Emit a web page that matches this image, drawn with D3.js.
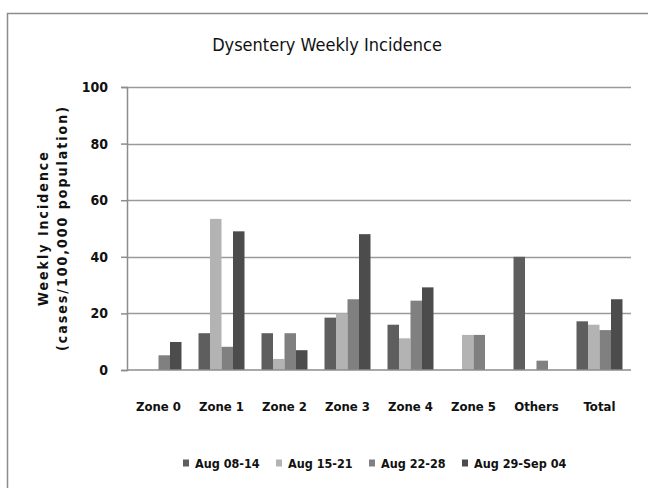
<!DOCTYPE html>
<html>
<head>
<meta charset="utf-8">
<script src="https://cdn.jsdelivr.net/npm/d3@7"></script>
<style>
    body { margin: 0; background: #fff; }
    svg text { font-family: "Liberation Sans Narrow", "DejaVu Sans Condensed", "Arial Narrow", sans-serif; fill: #111; }
</style>
</head>
<body>
<svg id="chart"></svg>
<script>
const categories = ["Zone 0", "Zone 1", "Zone 2", "Zone 3", "Zone 4", "Zone 5", "Others", "Total"];
const seriesNames = ["Aug 08-14", "Aug 15-21", "Aug 22-28", "Aug 29-Sep 04"];
const aug08_14 = [0, 13, 13, 18.5, 16, 0, 40, 17.2];
const aug15_21 = [0, 53.4, 3.9, 20, 11.2, 12.4, 0, 16];
const aug22_28 = [5.2, 8.2, 13, 25, 24.5, 12.4, 3.3, 14.1];
const aug29_sep04 = [9.9, 49, 7, 48, 29.2, 0, 0, 25];
const yTicks = [0, 20, 40, 60, 80, 100];
const colors = ["#5e5e5e", "#b3b3b3", "#808080", "#4c4c4c"];

const seriesValues = [aug08_14, aug15_21, aug22_28, aug29_sep04];
const data = categories.map((c, i) => ({
    cat: c,
    vals: seriesNames.map((s, j) => ({ key: s, value: seriesValues[j][i] }))
}));

const width = 648, height = 488;
const plot = { left: 127, right: 631, top: 87, bottom: 370 };

const svg = d3.select("#chart").attr("width", width).attr("height", height);

// outer frame (runs off the right and bottom edges)
svg.append("rect")
    .attr("x", 7.5).attr("y", 13.5)
    .attr("width", 700).attr("height", 600)
    .attr("fill", "#fff")
    .attr("stroke", "#8c8c8c")
    .attr("stroke-width", 1.5);

const xScale = d3.scaleBand()
    .domain(categories)
    .range([plot.left, plot.right])
    .paddingInner(0.27)
    .paddingOuter(0.135);

const xSub = d3.scaleBand()
    .domain(seriesNames)
    .range([0, xScale.bandwidth()]);

const yScale = d3.scaleLinear()
    .domain([0, 100])
    .range([plot.bottom, plot.top]);

const colorScale = d3.scaleOrdinal().domain(seriesNames).range(colors);

// gridlines
svg.append("g")
    .selectAll("line")
    .data(yTicks.filter(d => d > 0))
    .join("line")
    .attr("x1", plot.left).attr("x2", plot.right)
    .attr("y1", d => Math.round(yScale(d)) + 0.5)
    .attr("y2", d => Math.round(yScale(d)) + 0.5)
    .attr("stroke", "#9a9a9a")
    .attr("stroke-width", 1.5);

// y axis
const yAxis = d3.axisLeft(yScale).tickValues(yTicks).tickSize(6).tickPadding(13);
const yAxisG = svg.append("g")
    .attr("transform", `translate(${plot.left},0)`)
    .call(yAxis);
yAxisG.select(".domain").attr("stroke", "#8c8c8c").attr("stroke-width", 1.5);
yAxisG.selectAll(".tick line").attr("stroke", "#8c8c8c").attr("stroke-width", 1.5);
yAxisG.selectAll(".tick text")
    .style("font-size", "14px")
    .style("font-weight", "bold")
    .attr("fill", "#111");

// bars
svg.append("g")
    .selectAll("g")
    .data(data)
    .join("g")
    .attr("transform", d => `translate(${xScale(d.cat)},0)`)
    .selectAll("rect")
    .data(d => d.vals)
    .join("rect")
    .attr("x", d => xSub(d.key))
    .attr("y", d => yScale(d.value))
    .attr("width", xSub.bandwidth())
    .attr("height", d => yScale(0) - yScale(d.value))
    .attr("fill", d => colorScale(d.key));

// baseline
svg.append("line")
    .attr("x1", plot.left).attr("x2", plot.right)
    .attr("y1", yScale(0)).attr("y2", yScale(0))
    .attr("stroke", "#8c8c8c")
    .attr("stroke-width", 1.5);

// x axis labels
const xAxis = d3.axisBottom(xScale).tickSize(0).tickPadding(32);
const xAxisG = svg.append("g")
    .attr("transform", `translate(0,${plot.bottom})`)
    .call(xAxis);
xAxisG.select(".domain").remove();
xAxisG.selectAll(".tick text")
    .style("font-size", "13px")
    .style("font-weight", "bold")
    .attr("fill", "#111");

// title
svg.append("text")
    .attr("x", 327)
    .attr("y", 51)
    .attr("text-anchor", "middle")
    .style("font-size", "18px")
    .text("Dysentery Weekly Incidence");

// y axis title
const yTitle = svg.append("text")
    .attr("transform", "translate(48,228) rotate(-90)")
    .attr("text-anchor", "middle")
    .style("font-size", "14px")
    .style("font-weight", "bold")
    .style("letter-spacing", "2px");
yTitle.append("tspan").attr("x", 0).attr("y", 0).text("Weekly Incidence");
yTitle.append("tspan").attr("x", 0).attr("y", 19).text("(cases/100,000 population)");

// legend
const legendX = [183, 276, 369, 462];
const legend = svg.append("g")
    .selectAll("g")
    .data(seriesNames)
    .join("g")
    .attr("transform", (d, i) => `translate(${legendX[i]},463)`);
legend.append("rect")
    .attr("x", 0).attr("y", -3.5)
    .attr("width", 6).attr("height", 7)
    .attr("fill", d => colorScale(d));
legend.append("text")
    .attr("x", 12)
    .attr("y", 5)
    .style("font-size", "12.5px")
    .style("font-weight", "bold")
    .text(d => d);
</script>
</body>
</html>
